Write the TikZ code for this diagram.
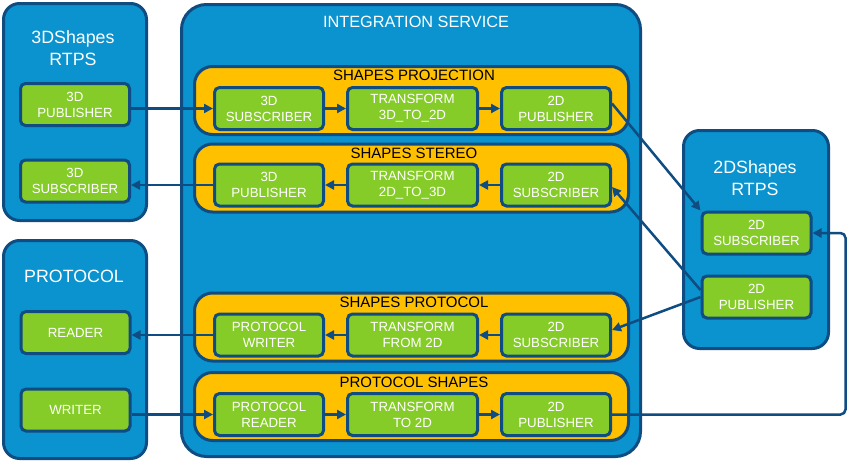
\documentclass[tikz,border=0pt]{standalone}
\usepackage{fontspec}
\setmainfont{Liberation Sans}
\usetikzlibrary{arrows.meta,positioning}
\definecolor{panel}{HTML}{0A93CE}
\definecolor{edge}{HTML}{0F4C81}
\definecolor{group}{HTML}{FFC000}
\definecolor{leaf}{HTML}{85CC28}

\begin{document}
\begin{tikzpicture}[x=1pt, y=-1pt, node distance=21pt and 21pt,
      every node/.style={font=\fontsize{13.3}{16}\selectfont, inner sep=0pt},
      panelbox/.style={draw=edge, fill=panel, line width=3pt, rounded corners=16pt},
      groupbox/.style={draw=edge, fill=group, line width=3pt, rounded corners=18pt, minimum width=434pt, minimum height=68pt},
      leafbox/.style={draw=edge, fill=leaf, line width=3pt, rounded corners=5pt, text=white, align=center, minimum width=109pt, minimum height=42pt},
      widebox/.style={leafbox, minimum width=130pt},
      title/.style={text=white, align=center, font=\fontsize{17.8}{22}\selectfont},
      grouptitle/.style={font=\fontsize{15}{18}\selectfont},
      arr/.style={-{Triangle[length=9pt,width=9pt]}, draw=edge, line width=2.5pt}]
    \useasboundingbox (0,0) rectangle (849,461);
    % outer panels
    \node[panelbox, minimum width=143pt, minimum height=217pt] (rtps3d) at (75,112) {};
    \node[panelbox, minimum width=143pt, minimum height=218pt] (proto) at (75,349.5) {};
    \node[panelbox, rounded corners=25pt, minimum width=459pt, minimum height=452pt] (integ) at (411,230.5) {};
    \node[panelbox, minimum width=145pt, minimum height=218pt] (rtps2d) at (756,239.5) {};
    \node[title] (rtps3dT) at (73,48.5) {3DShapes\\RTPS};
    \node[title] (protoT) at (74,276) {PROTOCOL};
    \node[title, font=\fontsize{16.3}{20}\selectfont] (integT) at (416,22) {INTEGRATION SERVICE};
    \node[title] (rtps2dT) at (755,178) {2DShapes\\RTPS};
    % routes inside the service
    \node[groupbox] (proj) at (411.5,100.5) {};
    \node[groupbox] (stereo) at (411.5,178) {};
    \node[groupbox] (sprot) at (411.5,327) {};
    \node[groupbox] (pshapes) at (411.5,406.5) {};
    \node[grouptitle] (projT) at (414,75) {SHAPES PROJECTION};
    \node[grouptitle] (stereoT) at (414,153) {SHAPES STEREO};
    \node[grouptitle] (sprotT) at (414,302) {SHAPES PROTOCOL};
    \node[grouptitle] (pshapesT) at (414,382) {PROTOCOL SHAPES};
    \node[leafbox] (sub3dP) at (269,108.5) {3D\\SUBSCRIBER};
    \node[widebox, right=of sub3dP] (tf32) {TRANSFORM\\3D\_TO\_2D};
    \node[leafbox, right=of tf32] (pub2dP) {2D\\PUBLISHER};
    \node[leafbox] (pub3dS) at (269,185) {3D\\PUBLISHER};
    \node[widebox, right=of pub3dS] (tf23) {TRANSFORM\\2D\_TO\_3D};
    \node[leafbox, right=of tf23] (sub2dS) {2D\\SUBSCRIBER};
    \node[leafbox] (writerR) at (269,335) {PROTOCOL\\WRITER};
    \node[widebox, right=of writerR] (tffrom) {TRANSFORM\\FROM 2D};
    \node[leafbox, right=of tffrom] (sub2dR) {2D\\SUBSCRIBER};
    \node[leafbox] (readerW) at (269,414.5) {PROTOCOL\\READER};
    \node[widebox, right=of readerW] (tfto) {TRANSFORM\\TO 2D};
    \node[leafbox, right=of tfto] (pub2dW) {2D\\PUBLISHER};
    % endpoints outside
    \node[leafbox] (pub3d) at (75,104.5) {3D\\PUBLISHER};
    \node[leafbox] (sub3d) at (75,181) {3D\\SUBSCRIBER};
    \node[leafbox] (reader) at (75.5,332.5) {READER};
    \node[leafbox] (writer) at (75.5,410) {WRITER};
    \node[leafbox] (sub2d) at (756.5,233) {2D\\SUBSCRIBER};
    \node[leafbox] (pub2d) at (756.5,297) {2D\\PUBLISHER};
    % connectors
    \draw[arr] (sub3dP.west -| pub3d.east) -- (sub3dP.west);
    \draw[arr] (sub3dP) -- (tf32); \draw[arr] (tf32) -- (pub2dP);
    \draw[arr] ([yshift=5pt]pub2dP.east) -- (sub2d.north west);
    \draw[arr] ([yshift=7pt]pub2d.west) -- ([yshift=-2pt]sub2dS.east);
    \draw[arr] (sub2dS) -- (tf23); \draw[arr] (tf23) -- (pub3dS);
    \draw[arr] (pub3dS.west) -- (pub3dS.west -| sub3d.east);
    \draw[arr] (pub2d.west) -- ([yshift=5pt]sub2dR.east);
    \draw[arr] (sub2dR) -- (tffrom); \draw[arr] (tffrom) -- (writerR);
    \draw[arr] (writerR.west) -- (writerR.west -| reader.east);
    \draw[arr] (readerW.west -| writer.east) -- (readerW.west);
    \draw[arr] (readerW) -- (tfto); \draw[arr] (tfto) -- (pub2dW);
    \draw[arr, rounded corners=5pt] (pub2dW.east) -| ([xshift=33pt]sub2d.east) -- (sub2d.east);
  \end{tikzpicture}
\end{document}
